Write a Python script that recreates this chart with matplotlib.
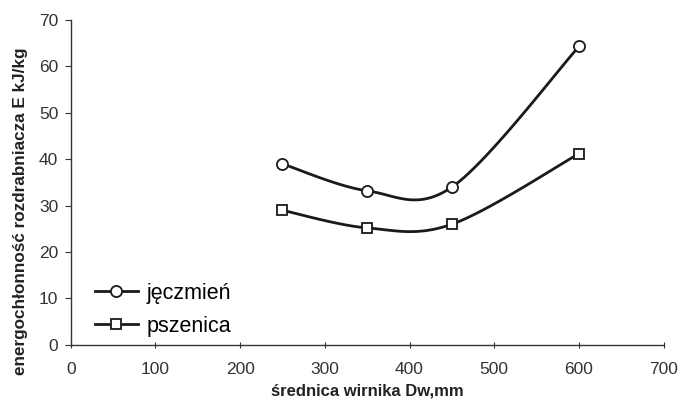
import numpy as np
import matplotlib.pyplot as plt
from matplotlib.lines import Line2D

plt.rcParams['font.family'] = ['Liberation Sans', 'DejaVu Sans']

# srednica wirnika [mm]
srednica = [250, 350, 450, 600]
jeczmien = [39.0, 33.2, 34.0, 64.3]
pszenica = [29.0, 25.2, 26.0, 41.2]


def wygladz(xs, ys, n=40):
    # Excel-like smoothed line (Bezier through the points)
    p = np.column_stack([xs, ys]).astype(float)
    pp = np.vstack([p[0], p, p[-1]])
    out = []
    for i in range(len(p) - 1):
        p0, p1 = pp[i + 1], pp[i + 2]
        c1 = p0 + (pp[i + 2] - pp[i]) / 6
        c2 = p1 - (pp[i + 3] - pp[i + 1]) / 6
        t = np.linspace(0, 1, n)[:, None]
        seg = ((1 - t) ** 3 * p0 + 3 * (1 - t) ** 2 * t * c1
               + 3 * (1 - t) * t ** 2 * c2 + t ** 3 * p1)
        out.append(seg if i == 0 else seg[1:])
    out = np.vstack(out)
    return out[:, 0], out[:, 1]


fig = plt.figure(figsize=(6.8, 4.01), dpi=100)
ax = fig.add_axes([0.104, 0.140, 0.872, 0.810])

kolor = '#1a1a1a'
for ys, mk in [(jeczmien, 'o'), (pszenica, 's')]:
    cx, cy = wygladz(srednica, ys)
    ax.plot(cx, cy, color=kolor, lw=2.0, zorder=2)
    ax.plot(srednica, ys, ls='none', marker=mk, ms=8 if mk == 'o' else 7.5,
            mfc='white', mec=kolor, mew=1.3, zorder=3)

ax.set_xlim(0, 700)
ax.set_ylim(0, 70)
ax.set_xticks(range(0, 701, 100))
ax.set_yticks(range(0, 71, 10))
ax.spines['top'].set_visible(False)
ax.spines['right'].set_visible(False)
for s in ['left', 'bottom']:
    ax.spines[s].set_color('#333333')
    ax.spines[s].set_linewidth(1.0)
ax.tick_params(axis='both', labelsize=12.5, colors='#333333', length=4)
ax.tick_params(axis='x', direction='inout', pad=10)
ax.tick_params(axis='y', pad=5)
ax.set_xlabel('średnica wirnika Dw,mm', fontsize=12, fontweight='bold',
              color='#222222', labelpad=5)
ax.set_ylabel('energochłonność rozdrabniacza E kJ/kg', fontsize=12.3,
              fontweight='bold', color='#222222', labelpad=10)
ax.yaxis.set_label_coords(-0.072, 0.41)

uchwyty = [
    Line2D([], [], color=kolor, lw=2.0, marker='o', ms=8, mfc='white', mec=kolor, mew=1.3),
    Line2D([], [], color=kolor, lw=2.0, marker='s', ms=7.5, mfc='white', mec=kolor, mew=1.3),
]
ax.legend(uchwyty, ['jęczmień', 'pszenica'], loc='lower left',
          bbox_to_anchor=(0.008, -0.035), frameon=False, fontsize=15.5,
          handlelength=2.0, handletextpad=0.4, labelspacing=0.55)

fig.savefig('out.png', dpi=100)
